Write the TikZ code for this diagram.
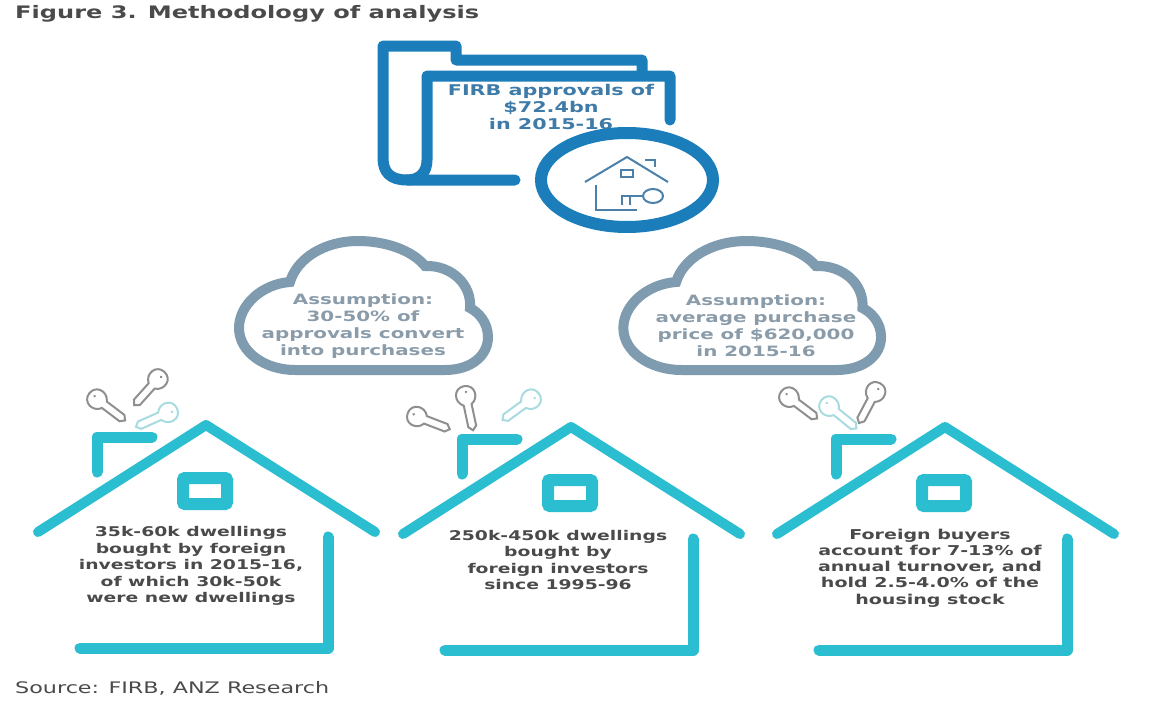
\documentclass[tikz,border=0pt]{standalone}
\usepackage{fontspec}
\setmainfont[FakeStretch=1.4]{DejaVu Sans}
\definecolor{folderblue}{HTML}{1B7DB9}
\definecolor{iconblue}{HTML}{4A80AA}
\definecolor{firbtext}{HTML}{3F7BA8}
\definecolor{cloudgrey}{HTML}{7F9BB0}
\definecolor{cloudtext}{HTML}{8A9BA9}
\definecolor{housecyan}{HTML}{2BBDD0}
\definecolor{bodytext}{HTML}{4A4A4A}
\definecolor{keygrey}{HTML}{8F8F8F}
\definecolor{keylight}{HTML}{A8DBE0}
\tikzset{
	caption/.style={anchor=west,inner sep=0,text=bodytext},
	blurb/.style={align=center,inner sep=0,font=\bfseries\fontsize{13.4}{16.4}\selectfont},
	keyicon/.pic={
		\draw [line width=2] (8,-4) -- (30,-4) -- (34,0) -- (30,4) -- (8,4)
			.. controls (3,13) and (-11,11) .. (-11,0)
			.. controls (-11,-11) and (3,-13) .. (8,-4) -- cycle;
		\fill (-5,-1) circle [radius=1.4];
	},
	housebig/.pic={
		\draw [housecyan,line width=10,line cap=round,line join=round] (38,532) -- (206,425) -- (375,532);
		\draw [housecyan,line width=11,line cap=round,line join=round] (328,537) -- (328,648) -- (80,648);
		\draw [housecyan,line width=11,line cap=round,line join=round] (97,472) -- (97,437) -- (152,437);
		\draw [housecyan,line width=12,rounded corners=2pt] (183,478) rectangle (227,504);
	},
	cloudbig/.pic={
		\draw [cloudgrey,line width=10] (295,370) -- (445,370)
			.. controls (472,370) and (488,355) .. (488,337)
			.. controls (488,322) and (478,312) .. (470,308)
			.. controls (472,285) and (452,265) .. (425,266)
			.. controls (412,250) and (385,241) .. (358,241)
			.. controls (325,241) and (297,258) .. (290,282)
			.. controls (262,284) and (239,305) .. (239,328)
			.. controls (239,352) and (265,370) .. (295,370) -- cycle;
	}
}
\begin{document}
\begin{tikzpicture}[x=1pt,y=-1pt]
	\useasboundingbox (0,0) rectangle (1160,704);
	\node (title) [caption,font=\bfseries\fontsize{17.2}{20}\selectfont] at (15,14) {Figure 3. Methodology of analysis};
	\node (source) [caption,font=\fontsize{15.9}{18}\selectfont] at (15,688) {Source: FIRB, ANZ Research};
	% folder
	\draw [folderblue,line width=11,line cap=round,line join=round]
		(515,180) -- (407,180) .. controls (390,180) and (383,172) .. (383,158)
		-- (383,46) -- (456,46) -- (456,60) -- (642,60) -- (642,75);
	\draw [folderblue,line width=11,line cap=round,line join=round]
		(670,120) -- (670,76) -- (427,76) -- (427,160) .. controls (427,172) and (420,180) .. (407,180);
	\draw [folderblue,line width=12] (627,180) ellipse [x radius=86, y radius=47];
	% small house and key
	\draw [iconblue,line width=2] (585,182) -- (627,157) -- (668,182);
	\draw [iconblue,line width=2] (645,160) -- (655,160) -- (655,167);
	\draw [iconblue,line width=2] (621,170) rectangle (633,177);
	\draw [iconblue,line width=2] (596,185) -- (596,210) -- (637,210);
	\draw [iconblue,line width=2] (653,196) ellipse [x radius=10, y radius=7];
	\draw [iconblue,line width=2] (643,196) -- (622,196) -- (622,205) (630,196) -- (630,205);
	\node (firb) [blurb,font=\bfseries\fontsize{14.8}{16.6}\selectfont,text=firbtext] at (551,107) {FIRB approvals of\\\$72.4bn\\in 2015-16};
	% clouds
	\pic at (0,0) {cloudbig};
	\pic [xscale=1.035] at (376,0) {cloudbig};
	\node (convert) [blurb,font=\bfseries\fontsize{14.2}{17}\selectfont,text=cloudtext] at (363,326) {Assumption:\\30-50\% of\\approvals convert\\into purchases};
	\node (price) [blurb,font=\bfseries\fontsize{14.2}{17}\selectfont,text=cloudtext] at (756,326) {Assumption:\\average purchase\\price of \$620,000\\in 2015-16};
	% houses
	\foreach \xoff/\yoff in {0/0,365/2,739/2}
		\pic at (\xoff,\yoff) {housebig};
	\node (recent) [blurb,text=bodytext] at (191,566) {35k-60k dwellings\\bought by foreign\\investors in 2015-16,\\of which 30k-50k\\were new dwellings};
	\node (total) [blurb,text=bodytext] at (558,560) {250k-450k dwellings\\bought by\\foreign investors\\since 1995-96};
	\node (share) [blurb,font=\bfseries\fontsize{13.6}{16.2}\selectfont,text=bodytext] at (930,568) {Foreign buyers\\account for 7-13\% of\\annual turnover, and\\hold 2.5-4.0\% of the\\housing stock};
	% keys
	\foreach \xkey/\ykey/\akey/\ckey in {
		98/400/-37/keygrey,157/380/-132/keygrey,167/413/204/keylight,
		418/417/-21/keygrey,466/397/-78/keygrey,530/400/216/keylight,
		790/398/-37/keygrey,830/407/-39/keylight,875/393/242/keygrey}
		\pic [rotate=\akey,color=\ckey] at (\xkey,\ykey) {keyicon};
\end{tikzpicture}
\end{document}
